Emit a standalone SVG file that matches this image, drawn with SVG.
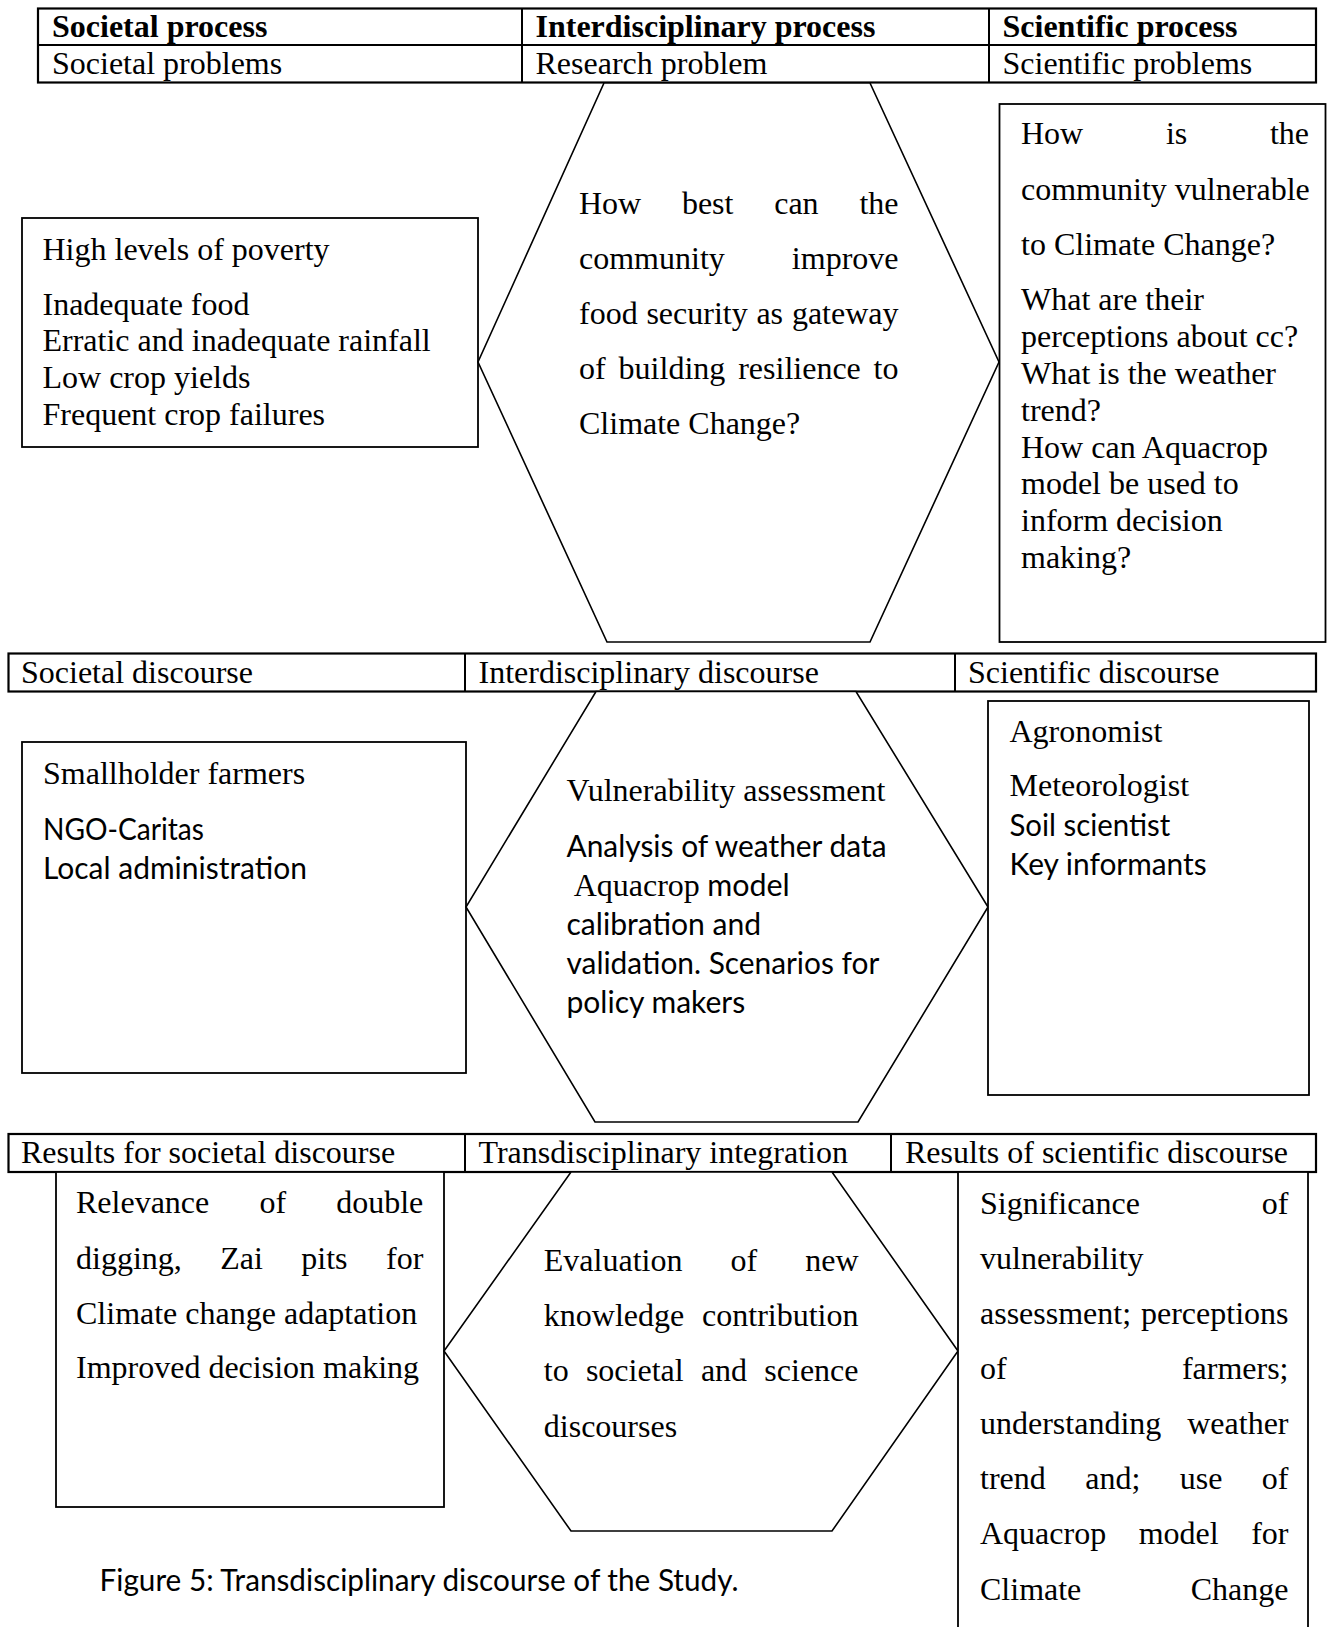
<svg xmlns="http://www.w3.org/2000/svg" width="1327" height="1627" viewBox="0 0 1327 1627">
  <style>
    .bg { fill: #ffffff; }
    .frame { fill: #ffffff; stroke: #000000; stroke-width: 2.2; }
    .rule { stroke: #000000; stroke-width: 2; fill: none; }
    .box { fill: #ffffff; stroke: #000000; stroke-width: 1.8; }
    .hex { fill: #ffffff; stroke: #000000; stroke-width: 1.6; stroke-linejoin: miter; }
    .serif { font-family: "Liberation Serif", "Times New Roman", serif; font-size: 32px; fill: #000000; }
    .bold { font-weight: bold; }
    .sans { font-family: Lato, "Noto Sans", "Liberation Sans", sans-serif; font-size: 30px; fill: #000000; }
    .end { text-anchor: end; }
  </style>

  <rect class="bg" x="0" y="0" width="1327" height="1627"/>

  <!-- Row 1: process header table -->
  <g id="table-process">
    <rect class="frame" x="38" y="8.5" width="1278" height="74"/>
    <line class="rule" x1="38" y1="45" x2="1316" y2="45"/>
    <line class="rule" x1="522" y1="8.5" x2="522" y2="82.5"/>
    <line class="rule" x1="989" y1="8.5" x2="989" y2="82.5"/>
    <text class="serif bold" x="52" y="36.5">Societal process</text>
    <text class="serif bold" x="535.5" y="36.5">Interdisciplinary process</text>
    <text class="serif bold" x="1002.5" y="36.5">Scientific process</text>
    <text class="serif" x="52" y="74">Societal problems</text>
    <text class="serif" x="535.5" y="74">Research problem</text>
    <text class="serif" x="1002.5" y="74">Scientific problems</text>
  </g>

  <g id="societal-problems">
    <rect class="box" x="22" y="218" width="456" height="229"/>
    <text class="serif" x="42.5" y="259.5">High levels of poverty</text>
    <text class="serif" x="42.5" y="314.5">Inadequate food</text>
    <text class="serif" x="42.5" y="351.3">Erratic and inadequate rainfall</text>
    <text class="serif" x="42.5" y="388.1">Low crop yields</text>
    <text class="serif" x="42.5" y="424.9">Frequent crop failures</text>
  </g>

  <g id="research-problem">
    <polygon class="hex" points="604,83 870,83 999,362 870,642 607,642 478,362"/>
    <text class="serif" y="213.7"><tspan x="579">How</tspan><tspan x="681.9">best</tspan><tspan x="774.2">can</tspan><tspan x="859.4">the</tspan></text>
    <text class="serif" y="268.7"><tspan x="579">community</tspan></text>
    <text class="serif end" x="898.5" y="268.7">improve</text>
    <text class="serif" y="323.7"><tspan x="579">food</tspan><tspan x="646.4">security</tspan><tspan x="756.4">as</tspan></text>
    <text class="serif end" x="898.5" y="323.7">gateway</text>
    <text class="serif" y="378.7"><tspan x="579">of</tspan><tspan x="618.6">building</tspan><tspan x="738.2">resilience</tspan></text>
    <text class="serif end" x="898.5" y="378.7">to</text>
    <text class="serif" x="579" y="433.6">Climate Change?</text>
  </g>

  <g id="scientific-problems">
    <rect class="box" x="999.5" y="104" width="326" height="538"/>
    <text class="serif" y="144"><tspan x="1021">How</tspan><tspan x="1165.9">is</tspan></text>
    <text class="serif end" x="1309" y="144">the</text>
    <text class="serif" x="1021" y="199.5">community vulnerable</text>
    <text class="serif" x="1021" y="255">to Climate Change?</text>
    <text class="serif" x="1021" y="309.5">What are their</text>
    <text class="serif" x="1021" y="346.5">perceptions about cc?</text>
    <text class="serif" x="1021" y="383.5">What is the weather</text>
    <text class="serif" x="1021" y="420.5">trend?</text>
    <text class="serif" x="1021" y="457.5">How can Aquacrop</text>
    <text class="serif" x="1021" y="494">model be used to</text>
    <text class="serif" x="1021" y="530.5">inform decision</text>
    <text class="serif" x="1021" y="567.5">making?</text>
  </g>

  <!-- Row 2: discourse table -->
  <g id="table-discourse">
    <rect class="frame" x="8.5" y="653.5" width="1307.5" height="38"/>
    <line class="rule" x1="465" y1="653.5" x2="465" y2="691.5"/>
    <line class="rule" x1="955" y1="653.5" x2="955" y2="691.5"/>
    <text class="serif" x="21" y="683">Societal discourse</text>
    <text class="serif" x="478.5" y="683">Interdisciplinary discourse</text>
    <text class="serif" x="968" y="683">Scientific discourse</text>
  </g>

  <g id="societal-actors">
    <rect class="box" x="22" y="742" width="444" height="331"/>
    <text class="serif" x="43" y="783.5">Smallholder farmers</text>
    <text class="sans" x="43" y="840" textLength="161" lengthAdjust="spacingAndGlyphs">NGO-Caritas</text>
    <text class="sans" x="43" y="879" textLength="264" lengthAdjust="spacingAndGlyphs">Local administration</text>
  </g>

  <g id="interdisciplinary-methods">
    <polygon class="hex" points="596,691.5 856,691.5 988,907 858,1122 595,1122 466,907"/>
    <text class="serif" x="566.5" y="800.5">Vulnerability assessment</text>
    <text class="sans" x="566.5" y="857" textLength="320" lengthAdjust="spacingAndGlyphs">Analysis of weather data</text>
    <text class="serif" x="573.7" y="896">Aquacrop</text>
    <text class="sans" x="707.2" y="896" textLength="82.5" lengthAdjust="spacingAndGlyphs">model</text>
    <text class="sans" x="566.5" y="935" textLength="194.7" lengthAdjust="spacingAndGlyphs">calibration and</text>
    <text class="sans" x="566.5" y="974" textLength="312.8" lengthAdjust="spacingAndGlyphs">validation. Scenarios for</text>
    <text class="sans" x="566.5" y="1013" textLength="178.7" lengthAdjust="spacingAndGlyphs">policy makers</text>
  </g>

  <g id="scientific-actors">
    <rect class="box" x="988" y="701" width="321" height="394"/>
    <text class="serif" x="1009.5" y="741.5">Agronomist</text>
    <text class="serif" x="1009.5" y="796">Meteorologist</text>
    <text class="sans" x="1009.5" y="835.5" textLength="160.8" lengthAdjust="spacingAndGlyphs">Soil scientist</text>
    <text class="sans" x="1009.5" y="874.5" textLength="197.2" lengthAdjust="spacingAndGlyphs">Key informants</text>
  </g>

  <!-- Row 3: results table -->
  <g id="table-results">
    <rect class="frame" x="8.5" y="1134" width="1307.5" height="38"/>
    <line class="rule" x1="465" y1="1134" x2="465" y2="1172"/>
    <line class="rule" x1="891" y1="1134" x2="891" y2="1172"/>
    <text class="serif" x="21" y="1163">Results for societal discourse</text>
    <text class="serif" x="478.5" y="1163">Transdisciplinary integration</text>
    <text class="serif" x="905" y="1163">Results of scientific discourse</text>
  </g>

  <g id="societal-results">
    <rect class="box" x="56" y="1172" width="388" height="335"/>
    <text class="serif" y="1213"><tspan x="76">Relevance</tspan><tspan x="259.4">of</tspan></text>
    <text class="serif end" x="423.3" y="1213">double</text>
    <text class="serif" y="1268.5"><tspan x="76">digging,</tspan><tspan x="220.2">Zai</tspan><tspan x="301.3">pits</tspan></text>
    <text class="serif end" x="423.3" y="1268.5">for</text>
    <text class="serif" x="76" y="1323.5">Climate change adaptation</text>
    <text class="serif" x="76" y="1378">Improved decision making</text>
  </g>

  <g id="transdisciplinary-integration">
    <polygon class="hex" points="571,1172 832,1172 958,1351 832,1531 571,1531 444,1351"/>
    <text class="serif" y="1270.5"><tspan x="543.8">Evaluation</tspan><tspan x="730.5">of</tspan></text>
    <text class="serif end" x="858.5" y="1270.5">new</text>
    <text class="serif" x="543.8" y="1325.5">knowledge</text>
    <text class="serif end" x="858.5" y="1325.5">contribution</text>
    <text class="serif" y="1380.5"><tspan x="543.8">to</tspan><tspan x="585.9">societal</tspan><tspan x="700.9">and</tspan></text>
    <text class="serif end" x="858.5" y="1380.5">science</text>
    <text class="serif" x="543.8" y="1437">discourses</text>
  </g>

  <g id="scientific-results">
    <rect class="box" x="958" y="1172" width="350" height="480"/>
    <text class="serif" x="980" y="1213.5">Significance</text>
    <text class="serif end" x="1288.5" y="1213.5">of</text>
    <text class="serif" x="980" y="1268.5">vulnerability</text>
    <text class="serif" x="980" y="1323.5">assessment;</text>
    <text class="serif end" x="1288.5" y="1323.5">perceptions</text>
    <text class="serif" x="980" y="1378.5">of</text>
    <text class="serif end" x="1288.5" y="1378.5">farmers;</text>
    <text class="serif" x="980" y="1433.5">understanding</text>
    <text class="serif end" x="1288.5" y="1433.5">weather</text>
    <text class="serif" y="1488.5"><tspan x="980">trend</tspan><tspan x="1085.2">and;</tspan><tspan x="1179.7">use</tspan></text>
    <text class="serif end" x="1288.5" y="1488.5">of</text>
    <text class="serif" y="1544"><tspan x="980">Aquacrop</tspan><tspan x="1138.7">model</tspan></text>
    <text class="serif end" x="1288.5" y="1544">for</text>
    <text class="serif" x="980" y="1599.5">Climate</text>
    <text class="serif end" x="1288.5" y="1599.5">Change</text>
  </g>

  <g id="caption">
    <text class="sans" x="99.5" y="1590.5" textLength="639" lengthAdjust="spacingAndGlyphs">Figure 5: Transdisciplinary discourse of the Study.</text>
  </g>
</svg>
